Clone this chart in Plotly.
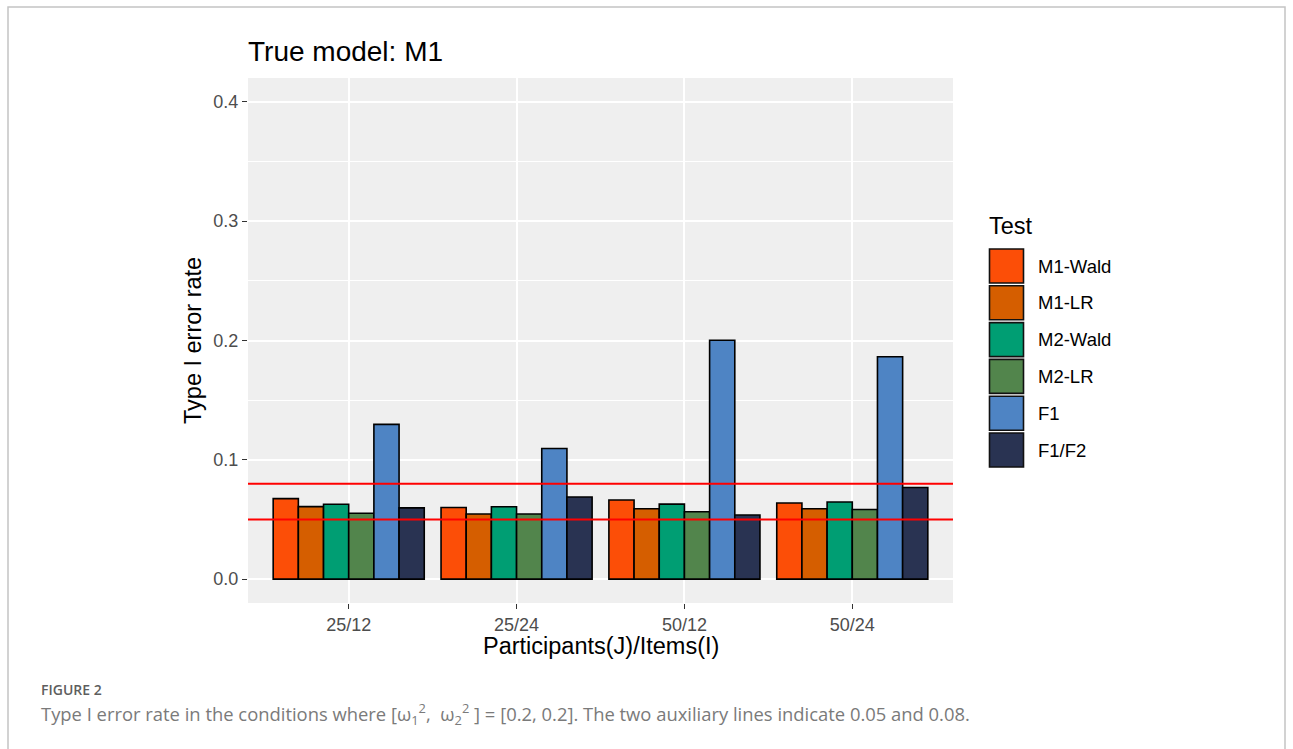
import plotly.graph_objects as go

# ---------------- data ----------------
conditions = ["25/12", "25/24", "50/12", "50/24"]
tests = ["M1-Wald", "M1-LR", "M2-Wald", "M2-LR", "F1", "F1/F2"]
colors = ["#FC4E07", "#D55E00", "#009E73", "#52854C", "#4E84C4", "#293352"]

m1_wald = [0.0675, 0.0601, 0.0663, 0.0638]
m1_lr = [0.0608, 0.0546, 0.0590, 0.0590]
m2_wald = [0.0628, 0.0607, 0.0629, 0.0646]
m2_lr = [0.0552, 0.0546, 0.0565, 0.0584]
f1 = [0.1297, 0.1095, 0.2002, 0.1864]
f1_f2 = [0.0597, 0.0688, 0.0537, 0.0768]
series = [m1_wald, m1_lr, m2_wald, m2_lr, f1, f1_f2]

ref_lines = [0.05, 0.08]
y_ticks = [0.0, 0.1, 0.2, 0.3, 0.4]

title_text = "True model: M1"
x_title = "Participants(J)/Items(I)"
y_title = "Type I error rate"
legend_title = "Test"
fig_label = "FIGURE 2"
caption = ("Type I error rate in the conditions where [ω<sub>1</sub><sup>2</sup>,  "
           "ω<sub>2</sub><sup>2</sup> ] = [0.2, 0.2]. The two auxiliary lines indicate 0.05 and 0.08.")

# ---------------- layout geometry (pixels) ----------------
W, H = 1293, 749
L, R, T, B = 248, 953, 78, 603


def px(x):
    return (x - L) / (R - L)


def py(y):
    return (B - y) / (B - T)


FONT = "Liberation Sans, Arial, Helvetica, sans-serif"
CAP_FONT = "Open Sans, Lato, sans-serif"

fig = go.Figure()
for name, vals, col in zip(tests, series, colors):
    fig.add_trace(go.Bar(
        x=conditions, y=vals, name=name,
        marker=dict(color=col, line=dict(color="#000000", width=1.6)),
        showlegend=False,
    ))

shapes = []
annotations = []

# frame border
shapes.append(dict(type="rect", xref="paper", yref="paper",
                   x0=px(8), x1=px(1285), y0=py(800), y1=py(7),
                   line=dict(color="#C4C4C4", width=1.5), fillcolor="rgba(0,0,0,0)",
                   layer="below"))

# auxiliary reference lines
for v in ref_lines:
    shapes.append(dict(type="line", xref="x domain", yref="y",
                       x0=0, x1=1, y0=v, y1=v,
                       line=dict(color="#FF0000", width=2), layer="above"))

# custom legend
annotations.append(dict(text=legend_title, xref="paper", yref="paper",
                        x=px(987), y=py(226), xanchor="left", yanchor="middle",
                        showarrow=False, font=dict(family=FONT, size=23.5, color="#000000")))
for i, (name, col) in enumerate(zip(tests, colors)):
    yc = 266 + i * 36.8
    shapes.append(dict(type="rect", xref="paper", yref="paper",
                       x0=px(989.5), x1=px(1023.5), y0=py(yc + 17), y1=py(yc - 17),
                       fillcolor=col, line=dict(color="#111111", width=1.6), layer="above"))
    annotations.append(dict(text=name, xref="paper", yref="paper",
                            x=px(1036), y=py(yc), xanchor="left", yanchor="middle",
                            showarrow=False, font=dict(family=FONT, size=18.5, color="#000000")))

# title and axis titles
annotations.append(dict(text=title_text, xref="paper", yref="paper",
                        x=px(246), y=py(51), xanchor="left", yanchor="middle",
                        showarrow=False, font=dict(family=FONT, size=28, color="#000000")))
annotations.append(dict(text=x_title, xref="paper", yref="paper",
                        x=px(600.5), y=py(646), xanchor="center", yanchor="middle",
                        showarrow=False, font=dict(family=FONT, size=23.5, color="#000000")))
annotations.append(dict(text=y_title, xref="paper", yref="paper",
                        x=px(193), y=py(341), xanchor="center", yanchor="middle",
                        textangle=-90,
                        showarrow=False, font=dict(family=FONT, size=23.5, color="#000000")))

# caption
annotations.append(dict(text=fig_label, xref="paper", yref="paper",
                        x=px(39), y=py(689), xanchor="left", yanchor="middle",
                        showarrow=False, font=dict(family=CAP_FONT, size=14, color="#5E5E5E",
                                                   weight=600)))
annotations.append(dict(text=caption, xref="paper", yref="paper",
                        x=px(39), y=py(714), xanchor="left", yanchor="middle",
                        showarrow=False, font=dict(family=CAP_FONT, size=18.4, color="#7A7A7A")))

fig.update_layout(
    width=W, height=H, autosize=False,
    margin=dict(l=L, r=W - R, t=T, b=H - B, pad=0),
    paper_bgcolor="#FFFFFF", plot_bgcolor="#EFEFEF",
    barmode="group", bargap=0.1, bargroupgap=0.0,
    shapes=shapes, annotations=annotations,
    font=dict(family=FONT),
)
fig.update_xaxes(
    type="category", range=[-0.6, 3.6],
    showgrid=True, gridcolor="#FFFFFF", gridwidth=2,
    ticks="outside", ticklen=5, tickwidth=1.1, tickcolor="#333333",
    tickfont=dict(family=FONT, size=18, color="#4D4D4D"),
    showline=False, zeroline=False,
)
fig.update_yaxes(
    range=[-0.02, 0.42], tickvals=y_ticks, tickformat=".1f",
    showgrid=True, gridcolor="#FFFFFF", gridwidth=2,
    minor=dict(dtick=0.05, tick0=0.05, showgrid=True, gridcolor="#FFFFFF", gridwidth=1, ticks=""),
    ticks="outside", ticklen=5, tickwidth=1.1, tickcolor="#333333",
    tickfont=dict(family=FONT, size=18, color="#4D4D4D"),
    showline=False, zeroline=False,
)

fig.write_html("out.html", config={"displayModeBar": False},
               post_script="document.body.style.margin='0';")
